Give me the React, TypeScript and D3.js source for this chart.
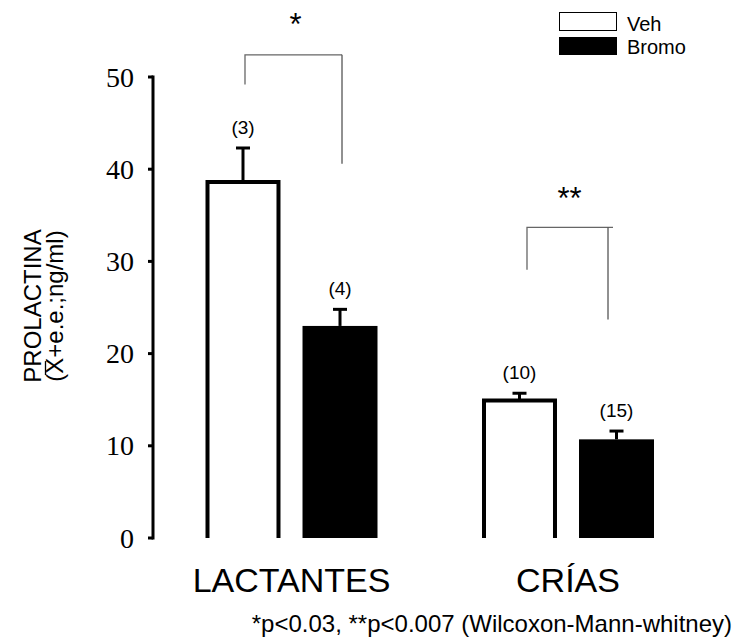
import React from "react";
import * as d3 from "d3";

const categories = ["LACTANTES", "CRÍAS"];
const series = ["Veh", "Bromo"];
const vehValues = [38.6, 14.9];
const vehErrors = [3.7, 0.8];
const bromoValues = [23.0, 10.7];
const bromoErrors = [1.8, 0.9];
const vehN = ["(3)", "(10)"];
const bromoN = ["(4)", "(15)"];
const yTicks = [0, 10, 20, 30, 40, 50];
const sigLabels = ["*", "**"];
const footnote = "*p<0.03, **p<0.007 (Wilcoxon-Mann-whitney)";

export default function App() {
  const W = 734, H = 642;
  const y = d3.scaleLinear().domain([0, 50]).range([538, 77]);
  const x0 = d3.scalePoint<string>().domain(categories).range([291.5, 568]);
  const x1 = d3.scaleBand<string>().domain(series).range([-86, 86]).paddingInner(0.227);
  const bw = x1.bandwidth();
  const sans = "'Liberation Sans', Arial, sans-serif";
  const serif = "'Liberation Serif', 'Times New Roman', serif";

  const bars: any[] = [];
  categories.forEach((c, i) => {
    bars.push({ c, s: "Veh", v: vehValues[i], e: vehErrors[i], n: vehN[i] });
    bars.push({ c, s: "Bromo", v: bromoValues[i], e: bromoErrors[i], n: bromoN[i] });
  });

  const brackets = [
    { c: "LACTANTES", lOff: 2, rOff: 2, ext: 0, top: y(52.4), leftBottom: y(49.2), rightBottom: y(40.6), label: sigLabels[0], labelY: 35, fs: 31 },
    { c: "CRÍAS", lOff: 7.5, rOff: -8.5, ext: 5, top: y(33.7), leftBottom: y(29.1), rightBottom: y(23.7), label: sigLabels[1], labelY: 209, fs: 31 },
  ];

  const tfs = 24;
  const line2W = 6.508 * tfs;
  const xStart = -line2W / 2 + 0.333 * tfs;
  const xEnd = xStart + 0.667 * tfs;

  return (
    <svg width={W} height={H} style={{ position: "absolute", left: 0, top: 0, background: "#fff" }}>
      {/* y axis */}
      <line x1={153} x2={153} y1={y(50) - 1.5} y2={y(0) + 1.5} stroke="#000" strokeWidth={3} />
      {yTicks.map((t) => (
        <g key={t}>
          <line x1={148} x2={153} y1={y(t)} y2={y(t)} stroke="#000" strokeWidth={3} />
          <text x={134} y={y(t)} dy="0.34em" textAnchor="end" fontFamily={serif} fontSize={28} fill="#000">
            {t}
          </text>
        </g>
      ))}
      {/* y title */}
      <g transform="translate(41,306) rotate(-90)">
        <text x={0} y={0} textAnchor="middle" fontFamily={sans} fontSize={tfs} fill="#000">PROLACTINA</text>
        <text x={0} y={22} textAnchor="middle" fontFamily={sans} fontSize={tfs} fill="#000">(X+e.e.;ng/ml)</text>
        <line x1={xStart + 1} x2={xEnd - 1} y1={4.5} y2={4.5} stroke="#000" strokeWidth={1.3} />
      </g>
      {/* bars */}
      {bars.map((b, i) => {
        const cx = (x0(b.c) as number) + (x1(b.s) as number) + bw / 2;
        const left = cx - bw / 2;
        const top = y(b.v);
        const et = y(b.v + b.e);
        const isVeh = b.s === "Veh";
        return (
          <g key={i}>
            <line x1={cx} x2={cx} y1={top} y2={et} stroke="#000" strokeWidth={3} />
            <line x1={cx - 7} x2={cx + 7} y1={et} y2={et} stroke="#000" strokeWidth={3} />
            {isVeh ? (
              <path
                d={`M${left + 2},${y(0)} V${top} H${left + bw - 2} V${y(0)}`}
                fill="#fff"
                stroke="#000"
                strokeWidth={4}
              />
            ) : (
              <rect x={left} y={top} width={bw} height={y(0) - top} fill="#000" />
            )}
            <text x={cx} y={et - 14} textAnchor="middle" fontFamily={sans} fontSize={19} fill="#000">
              {b.n}
            </text>
          </g>
        );
      })}
      {/* significance brackets */}
      {brackets.map((br, i) => {
        const lx = (x0(br.c) as number) + (x1("Veh") as number) + bw / 2 + br.lOff;
        const rx = (x0(br.c) as number) + (x1("Bromo") as number) + bw / 2 + br.rOff;
        return (
          <g key={i}>
            <path d={`M${lx},${br.leftBottom} V${br.top} H${rx + br.ext}`} fill="none" stroke="#666" strokeWidth={1.3} />
            <path d={`M${rx},${br.top} V${br.rightBottom}`} fill="none" stroke="#555" strokeWidth={1.3} />
            <text x={(lx + rx) / 2 + 2} y={br.labelY} textAnchor="middle" fontFamily={sans} fontSize={br.fs} fill="#000">
              {br.label}
            </text>
          </g>
        );
      })}
      {/* category labels */}
      {categories.map((c) => (
        <text key={c} x={x0(c) as number} y={592} textAnchor="middle" fontFamily={sans} fontSize={34} fill="#000">
          {c}
        </text>
      ))}
      {/* legend */}
      <rect x={559.5} y={12.5} width={57} height={18} fill="#fff" stroke="#000" strokeWidth={1} />
      <rect x={559} y={37} width={58} height={18} fill="#000" />
      <text x={627} y={31} fontFamily={sans} fontSize={20} fill="#000">{series[0]}</text>
      <text x={627} y={54} fontFamily={sans} fontSize={20} fill="#000">{series[1]}</text>
      {/* footnote */}
      <text x={732} y={632} textAnchor="end" fontFamily={sans} fontSize={24} fill="#000">{footnote}</text>
    </svg>
  );
}
